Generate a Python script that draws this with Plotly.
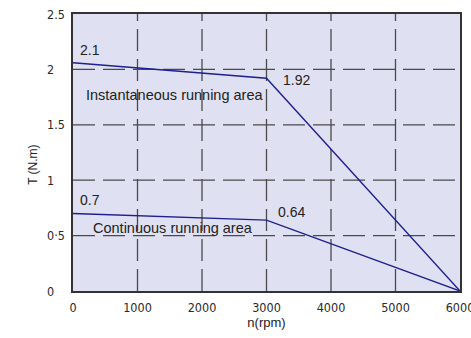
import plotly.graph_objects as go

# Data
speed_rpm = [0, 3000, 6000]
torque_instantaneous = [2.06, 1.92, 0]
torque_continuous = [0.7, 0.64, 0]

x_tick_vals = [0, 1000, 2000, 3000, 4000, 5000, 6000]
x_tick_text = ["0", "1000", "2000", "3000", "4000", "5000", "6000"]
y_tick_vals = [0, 0.5, 1, 1.5, 2, 2.5]
y_tick_text = ["0", "0·5", "1", "1.5", "2", "2.5"]

point_labels_x = [0, 3000, 0, 3000]
point_labels_y = [2.06, 1.92, 0.7, 0.64]
point_labels_text = ["2.1", "1.92", "0.7", "0.64"]

LINE = "#1f1f8f"
GRID = "#4a4a4a"
TICKFONT = dict(family="Liberation Sans Narrow, DejaVu Sans Condensed, sans-serif", size=12.5, color="#2a2a2a")
TEXTFONT = "Liberation Sans, Arial, sans-serif"

fig = go.Figure()
fig.add_trace(go.Scatter(x=speed_rpm, y=torque_instantaneous, mode="lines",
                         line=dict(color=LINE, width=1.4), showlegend=False, hoverinfo="skip"))
fig.add_trace(go.Scatter(x=speed_rpm, y=torque_continuous, mode="lines",
                         line=dict(color=LINE, width=1.4), showlegend=False, hoverinfo="skip"))

# dashed grid lines via shapes
for xv in x_tick_vals[1:-1]:
    fig.add_shape(type="line", xref="x", yref="y", x0=xv, x1=xv, y0=0, y1=2.5,
                  line=dict(color=GRID, width=1.3, dash="22px,8px"), layer="below")
for yv in y_tick_vals[1:-1]:
    fig.add_shape(type="line", xref="x", yref="y", x0=0, x1=6000, y0=yv, y1=yv,
                  line=dict(color=GRID, width=1.3, dash="22px,8px"), layer="below")

# y tick labels (left aligned)
for v, t in zip(y_tick_vals, y_tick_text):
    fig.add_annotation(x=-0.072, xref="paper", y=v, yref="y", text=t, showarrow=False,
                       xanchor="left", yanchor="middle", font=TICKFONT)

# point value labels
offsets = [(5, 13), (14, -2), (5, 13), (9, 8)]
for (px, py), t, (dx, dy) in zip(zip(point_labels_x, point_labels_y), point_labels_text, offsets):
    fig.add_annotation(x=px, y=py, text=t, showarrow=False, xanchor="left", yanchor="middle",
                       xshift=dx, yshift=dy,
                       font=dict(family=TEXTFONT, size=14, color="#222"))

fig.add_annotation(x=1580, y=1.77, text="Instantaneous running area", showarrow=False,
                   font=dict(family=TEXTFONT, size=14.5, color="#222"))
fig.add_annotation(x=1545, y=0.57, text="Continuous running area", showarrow=False,
                   font=dict(family=TEXTFONT, size=14.5, color="#222"))

fig.add_annotation(x=-0.103, xref="paper", y=1.14, yref="y", text="T (N.m)", textangle=-90,
                   showarrow=False, xanchor="center", yanchor="middle",
                   font=dict(family=TEXTFONT, size=12, color="#222"))

fig.update_xaxes(range=[0, 6000], tickvals=x_tick_vals, ticktext=x_tick_text, tickfont=TICKFONT,
                 showgrid=False, zeroline=False, showline=True, linecolor="#333", linewidth=1.5,
                 mirror=True, ticks="", ticklabelstandoff=4, automargin=False,
                 ticklabeloverflow="allow",
                 title=dict(text="n(rpm)", font=dict(family=TEXTFONT, size=13, color="#222"),
                            standoff=2))
fig.update_yaxes(range=[0, 2.5], showticklabels=False, showgrid=False, zeroline=False,
                 showline=True, linecolor="#333", linewidth=1.5, mirror=True, ticks="",
                 automargin=False)

fig.update_layout(width=471, height=338, margin=dict(l=73, r=11, t=14, b=47, autoexpand=False),
                  plot_bgcolor="#dfe1f3", paper_bgcolor="white")

fig.write_html("out.html", config={"displayModeBar": False},
               post_script="document.body.style.margin='0';document.body.style.overflow='hidden';")
